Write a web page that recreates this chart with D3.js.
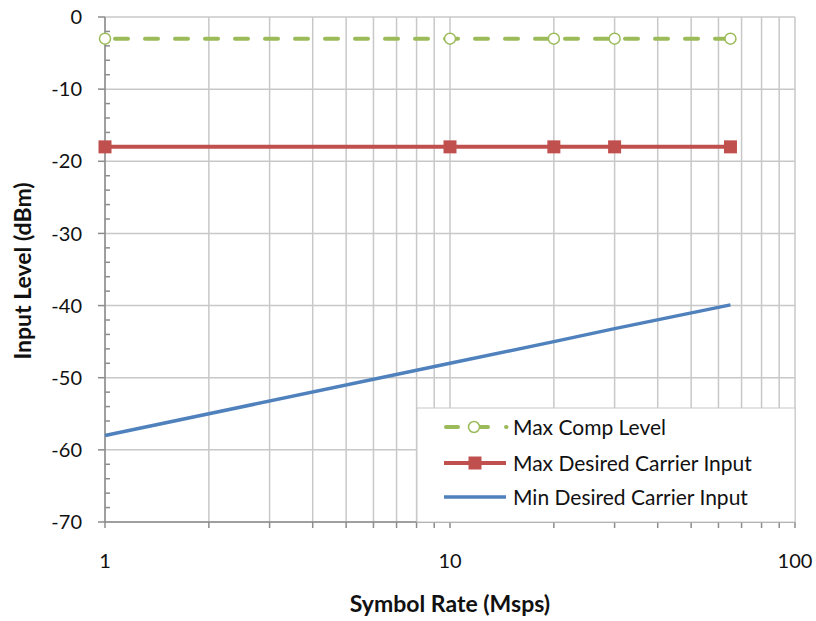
<!DOCTYPE html>
<html lang="en">
<head>
<meta charset="UTF-8">
<title>Input Level vs Symbol Rate</title>
<script src="https://d3js.org/d3.v7.min.js"></script>
<style>
    body { margin: 0; background: #fff; }
    svg text { font-family: Lato, "Open Sans", sans-serif; fill: #111; }
    .grid line { stroke: #c8c8c8; stroke-width: 1.5; }
    .axis path, .axis line { stroke: #8c8c8c; stroke-width: 1.5; }
</style>
</head>
<body>
<svg id="chart" width="816" height="621"></svg>
<script>
    // data
    const symbolRates = [1, 10, 20, 30, 65];
    const maxCompLevel = [-3, -3, -3, -3, -3];
    const maxDesiredInput = [-18, -18, -18, -18, -18];
    const minDesiredInput = [-58, -48, -45, -43.2, -39.9];
    const seriesNames = ["Max Comp Level", "Max Desired Carrier Input", "Min Desired Carrier Input"];
    const yTicks = [0, -10, -20, -30, -40, -50, -60, -70];
    const xTicks = [1, 10, 100];

    const svg = d3.select("#chart");
    const margin = {top: 17, right: 21, bottom: 99, left: 105};
    const width = 816 - margin.left - margin.right;
    const height = 621 - margin.top - margin.bottom;

    const g = svg.append("g")
        .attr("transform", `translate(${margin.left},${margin.top})`);

    const x = d3.scaleLog().domain([1, 100]).range([0, width]);
    const y = d3.scaleLinear().domain([-70, 0]).range([height, 0]);

    // minor x values (1..10, 20..100)
    const xMinor = [];
    for (let d = 1; d <= 10; d *= 10)
        for (let k = 1; k <= 10; k++) xMinor.push(k * d);
    const xGridVals = Array.from(new Set(xMinor)).filter(v => v <= 100);

    // grid
    const grid = g.append("g").attr("class", "grid");
    grid.selectAll(".vg").data(xGridVals).enter().append("line")
        .attr("x1", d => x(d)).attr("x2", d => x(d))
        .attr("y1", 0).attr("y2", height);
    grid.selectAll(".hg").data(yTicks).enter().append("line")
        .attr("x1", 0).attr("x2", width)
        .attr("y1", d => y(d)).attr("y2", d => y(d));

    // y axis
    const yAxis = g.append("g").attr("class", "axis");
    yAxis.append("line").attr("x1", 0).attr("x2", 0).attr("y1", 0).attr("y2", height);
    yAxis.selectAll(".maj").data(yTicks).enter().append("line")
        .attr("x1", -7).attr("x2", 0)
        .attr("y1", d => y(d)).attr("y2", d => y(d));
    yAxis.selectAll(".min").data(d3.range(-70, 1, 2).filter(v => v % 10 !== 0)).enter().append("line")
        .attr("x1", 0).attr("x2", 5)
        .attr("y1", d => y(d)).attr("y2", d => y(d));
    yAxis.selectAll("text").data(yTicks).enter().append("text")
        .attr("x", -23).attr("y", d => y(d)).attr("dy", "0.36em")
        .attr("text-anchor", "end").attr("font-size", 20)
        .text(d => d);

    // x axis
    const xAxis = g.append("g").attr("class", "axis");
    xAxis.append("line").attr("x1", 0).attr("x2", width).attr("y1", height).attr("y2", height);
    xAxis.selectAll(".tk").data(xGridVals).enter().append("line")
        .attr("x1", d => x(d)).attr("x2", d => x(d))
        .attr("y1", height).attr("y2", height + 6);
    xAxis.selectAll("text").data(xTicks).enter().append("text")
        .attr("x", d => x(d)).attr("y", height + 46)
        .attr("text-anchor", "middle").attr("font-size", 20)
        .text(d => d);

    // axis titles
    svg.append("text")
        .attr("x", 450).attr("y", 612)
        .attr("text-anchor", "middle").attr("font-size", 23).attr("font-weight", "bold")
        .text("Symbol Rate (Msps)");
    svg.append("text")
        .attr("transform", "translate(31,271) rotate(-90)")
        .attr("text-anchor", "middle").attr("font-size", 23).attr("font-weight", "bold")
        .text("Input Level (dBm)");

    const line = d3.line().x(d => x(d[0])).y(d => y(d[1]));
    const pts = vals => symbolRates.map((r, i) => [r, vals[i]]);

    // min desired (blue)
    g.append("path").datum(pts(minDesiredInput))
        .attr("d", line).attr("fill", "none")
        .attr("stroke", "#4f81bd").attr("stroke-width", 3.5);

    // max desired (red)
    g.append("path").datum(pts(maxDesiredInput))
        .attr("d", line).attr("fill", "none")
        .attr("stroke", "#c0504d").attr("stroke-width", 4);
    g.selectAll(".sq").data(pts(maxDesiredInput)).enter().append("rect")
        .attr("x", d => x(d[0]) - 6.5).attr("y", d => y(d[1]) - 6.5)
        .attr("width", 13).attr("height", 13).attr("fill", "#c0504d");

    // max comp (green dashed)
    g.append("path").datum(pts(maxCompLevel))
        .attr("d", line).attr("fill", "none")
        .attr("stroke", "#9bbb59").attr("stroke-width", 4)
        .attr("stroke-dasharray", "13 17").attr("stroke-dashoffset", -10)
        .attr("stroke-linecap", "round");
    g.selectAll(".ci").data(pts(maxCompLevel)).enter().append("circle")
        .attr("cx", d => x(d[0])).attr("cy", d => y(d[1])).attr("r", 5.5)
        .attr("fill", "#fff").attr("stroke", "#9bbb59").attr("stroke-width", 1.5);

    // legend
    const lg = svg.append("g").attr("transform", "translate(417,408)");
    lg.append("rect").attr("width", 378).attr("height", 114)
        .attr("fill", "#fff").attr("stroke", "#c8c8c8").attr("stroke-width", 1);
    const rowY = [19, 55, 89];
    const colors = ["#9bbb59", "#c0504d", "#4f81bd"];
    seriesNames.forEach((name, i) => {
        const row = lg.append("g").attr("transform", `translate(0,${rowY[i]})`);
        const ln = row.append("line").attr("x1", 27).attr("x2", 89)
            .attr("stroke", colors[i]).attr("stroke-width", i === 2 ? 3.5 : 4);
        if (i === 0) {
            ln.attr("x1", 29).attr("x2", 89.5).attr("stroke-dasharray", "12 18")
              .attr("stroke-linecap", "round");
            row.append("circle").attr("cx", 57).attr("r", 5.5)
                .attr("fill", "#fff").attr("stroke", colors[i]).attr("stroke-width", 1.5);
        }
        if (i === 1) {
            row.append("rect").attr("x", 51.5).attr("y", -6.5)
                .attr("width", 13).attr("height", 13).attr("fill", colors[i]);
        }
        row.append("text").attr("x", 96).attr("dy", "0.36em")
            .attr("font-size", 21).text(name);
    });
</script>
</body>
</html>
